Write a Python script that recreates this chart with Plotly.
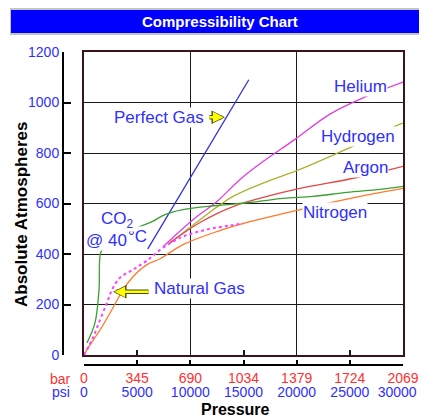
import plotly.graph_objects as go

# ---------------- data (psi, absolute atmospheres) ----------------
perfect_psi = [6000, 15500]
perfect_atm = [420, 1090]

helium_psi = [7429, 10250, 12507, 14670, 16739, 19842, 23134, 26613, 30000]
helium_atm = [429, 536, 608, 695, 763, 854, 954, 1025, 1081]

hydrogen_psi = [7899, 10909, 14012, 17209, 20313, 25673, 29717, 30000]
hydrogen_atm = [437, 536, 628, 687, 735, 834, 914, 918]

argon_psi = [8087, 10909, 14012, 17209, 20313, 25673, 30000]
argon_atm = [445, 525, 588, 628, 660, 703, 747]

nitrogen_psi = [0, 376, 1505, 2727, 3668, 4608, 5925, 7147, 9310, 12507, 15610, 20313, 26896, 30000]
nitrogen_atm = [0, 28, 99, 187, 258, 310, 358, 381, 437, 489, 528, 576, 636, 660]

co2_psi = [282, 1034, 1411, 1599, 2163, 3386, 5266, 6395, 7617, 9310, 12507, 15610, 18714, 21535, 24733, 27836, 30000]
co2_atm = [48, 127, 258, 409, 437, 473, 509, 528, 556, 576, 592, 604, 620, 628, 644, 656, 668]

natgas_psi = [0, 752, 1505, 2163, 2633, 3386, 4608, 5925, 7429, 9310, 11567, 13730, 14952]
natgas_atm = [0, 60, 139, 207, 258, 306, 338, 374, 425, 469, 497, 513, 521]

psi_ticks = [0, 5000, 10000, 15000, 20000, 25000, 30000]
psi_labels = ["0", "5000", "10000", "15000", "20000", "25000", "30000&nbsp;&nbsp;&nbsp;"]
bar_labels = ["0", "345", "690", "1034", "1379", "1724", "2069"]
atm_ticks = [0, 200, 400, 600, 800, 1000, 1200]

# ---------------- layout helpers ----------------
OFF = 8  # page body margin
W, H = 427 - OFF, 417 - OFF
FONT = "Liberation Sans, Arial, sans-serif"
BLUE_TXT = "#2f2fff"
RED_TXT = "#ff3030"


def px_x(p):
    return (p - OFF) / W


def px_y(p):
    return 1 - (p - OFF) / H


fig = go.Figure()

series = [
    (perfect_psi, perfect_atm, "#3030d8", "solid", 1.3),
    (helium_psi, helium_atm, "#e23ce2", "solid", 1.3),
    (hydrogen_psi, hydrogen_atm, "#b0b030", "solid", 1.3),
    (argon_psi, argon_atm, "#e04848", "solid", 1.3),
    (co2_psi, co2_atm, "#3ca030", "solid", 1.3),
    (nitrogen_psi, nitrogen_atm, "#ff7a2a", "solid", 1.3),
    (natgas_psi, natgas_atm, "#ff40ff", "dot", 2),
]
for xs, ys, col, dash, w in series:
    fig.add_trace(go.Scatter(x=xs, y=ys, mode="lines", line=dict(color=col, dash=dash, width=w),
                             line_shape="spline", showlegend=False, hoverinfo="skip"))

# dummy traces to register the free axes
fig.add_trace(go.Scatter(x=[], y=[], xaxis="x2", yaxis="y", showlegend=False))
fig.add_trace(go.Scatter(x=[], y=[], xaxis="x3", yaxis="y", showlegend=False))
fig.add_trace(go.Scatter(x=[], y=[], xaxis="x", yaxis="y2", showlegend=False))

frame = "#3a1418"
fig.update_layout(
    width=W, height=H,
    margin=dict(l=0, r=0, t=0, b=0, pad=0, autoexpand=False),
    paper_bgcolor="white", plot_bgcolor="white",
    font=dict(family=FONT),
    xaxis=dict(domain=[px_x(84), px_x(403)], range=[0, 30000], tickvals=[0, 10000, 20000, 30000],
               showgrid=True, gridcolor="#1a1a1a", gridwidth=1, showticklabels=False, ticks="",
               zeroline=False, showline=True, mirror=True, linecolor=frame, linewidth=2, automargin=False,
               minor=dict(tickvals=[5000, 15000, 25000], ticks="inside", ticklen=5, tickwidth=1.5,
                          tickcolor="#1a1a1a", showgrid=False)),
    yaxis=dict(domain=[px_y(355), px_y(52)], range=[0, 1200], dtick=200, showgrid=True,
               gridcolor="#1a1a1a", gridwidth=1, showticklabels=False, ticks="", zeroline=False,
               showline=True, mirror=True, linecolor=frame, linewidth=2, automargin=False),
    yaxis2=dict(overlaying="y", anchor="free", position=px_x(63), side="left", range=[0, 1200],
                tickvals=atm_ticks, showline=True, linecolor="black", linewidth=2, ticks="inside",
                ticklen=7, tickwidth=2, tickcolor="black", showgrid=False, zeroline=False, automargin=False,
                tickfont=dict(color=BLUE_TXT, size=14, family=FONT)),
    xaxis2=dict(overlaying="x", anchor="free", position=px_y(365), side="bottom", range=[0, 30000],
                tickvals=psi_ticks, ticktext=bar_labels, showline=True, linecolor="black", linewidth=2,
                ticks="inside", ticklen=4, tickwidth=2, tickcolor="black", showgrid=False, zeroline=False,
                automargin=False, ticklabeloverflow="allow",
                tickfont=dict(color=RED_TXT, size=14, family=FONT)),
    xaxis3=dict(overlaying="x", anchor="free", position=px_y(382), side="bottom", range=[0, 30000],
                tickvals=psi_ticks, ticktext=psi_labels, showline=False, ticks="", showgrid=False,
                zeroline=False, automargin=False, ticklabeloverflow="allow",
                tickfont=dict(color=BLUE_TXT, size=14, family=FONT)),
)

# title bar
fig.add_shape(type="rect", xref="paper", yref="paper", x0=px_x(10), x1=1, y0=px_y(35), y1=1,
              fillcolor="#c4c4c4", line=dict(width=0), layer="below")
fig.add_shape(type="rect", xref="paper", yref="paper", x0=px_x(11), x1=1, y0=px_y(33), y1=px_y(10),
              fillcolor="#0000ff", line=dict(width=0), layer="below")

ann = []


def paper_text(text, x, y, color, size, angle=0):
    ann.append(dict(text=text, xref="paper", yref="paper", x=px_x(x), y=px_y(y), xanchor="center",
                    yanchor="middle", textangle=angle, showarrow=False,
                    font=dict(color=color, size=size, family=FONT)))


paper_text("<b>Compressibility Chart</b>", 220, 21.5, "white", 15)
paper_text("<b>Absolute Atmospheres</b>", 22, 215, "black", 17, -90)
paper_text("<b>Pressure</b>", 235, 409, "black", 16)
paper_text("bar", 61, 379, RED_TXT, 14)
paper_text("psi", 61, 392, BLUE_TXT, 14)

labels = [
    ("Perfect Gas", 11379, 942, "right"),
    ("Helium", 28588, 1065, "right"),
    ("Hydrogen", 29340, 866, "right"),
    ("Argon", 28682, 743, "right"),
    ("Nitrogen", 20500, 564, "left"),
    ("@ 40", 2070, 453, "center"),
    ("°C", 5000, 468, "center"),
    ("CO<sub>2</sub>", 3197, 536, "center"),
    ("Natural Gas", 6489, 262, "left"),
]
for t, x, y, xa in labels:
    ann.append(dict(text=t, x=x, y=y, xref="x", yref="y", xanchor=xa, yanchor="middle", showarrow=False,
                    bgcolor="white", borderpad=0, font=dict(color=BLUE_TXT, size=17, family=FONT)))

# yellow arrows (outline + fill)
arrows = [(13260, 942, -17), (2727, 250, 37)]
for x, y, ax in arrows:
    ann.append(dict(text=" ", x=x, y=y, xref="x", yref="y", ax=ax, ay=0, showarrow=True, arrowhead=2,
                    arrowsize=0.6, arrowwidth=4.5, arrowcolor="#4a4a10", standoff=0,
                    font=dict(size=1)))
    ann.append(dict(text=" ", x=x, y=y, xref="x", yref="y", ax=ax, ay=0, showarrow=True, arrowhead=2,
                    arrowsize=0.85, arrowwidth=2.5, arrowcolor="#ffff00", standoff=1.5,
                    font=dict(size=1)))
fig.update_layout(annotations=ann)

fig.write_html("out.html")
